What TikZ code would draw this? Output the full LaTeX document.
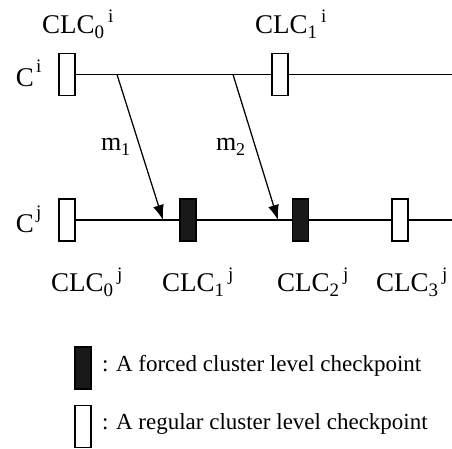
\documentclass[tikz,border=0pt]{standalone}
\usepackage{fontspec}
\setmainfont{Liberation Serif}
\usetikzlibrary{arrows.meta}

% checkpoint label: CLC with a lowered index and a raised cluster name
\newcommand{\clclabel}[2]{CLC\raisebox{-5pt}{\fontsize{19}{19}\selectfont #1}\hspace{4pt}\raisebox{11pt}{\fontsize{19}{19}\selectfont #2}}
\newcommand{\proclabel}[1]{C\hspace{2pt}\raisebox{14pt}{\fontsize{19}{19}\selectfont #1}}

\begin{document}
\begin{tikzpicture}[x=1pt,y=-1pt,
  every node/.style={inner sep=0pt, outer sep=0pt},
  ckpt/.style={draw=black, line width=1.2pt, fill=white, minimum width=16pt, minimum height=42pt},
  forced/.style={ckpt, fill=black!90},
  timeline/.style={line width=1.25pt},
  msg/.style={line width=1.25pt, -{Latex[length=15pt,width=11pt]}},
  lbl/.style={anchor=base west, font=\fontsize{27}{27}\selectfont},
  legend/.style={anchor=west, font=\fontsize{23}{23}\selectfont}]
  \useasboundingbox (0,0) rectangle (452,448);

  % cluster i
  \node[ckpt] (c0i) at (67,74.5) {};
  \node[ckpt] (c1i) at (280,74.5) {};
  \coordinate (iend) at (452,74.5);
  \draw[timeline] (c0i.east) -- (c1i.west);
  \draw[timeline] (c1i.east) -- (iend);

  % cluster j
  \node[ckpt] (c0j) at (67,220) {};
  \node[forced] (c1j) at (188,220) {};
  \node[forced] (c2j) at (300.5,220) {};
  \node[ckpt] (c3j) at (400,220) {};
  \coordinate (jend) at (452,220);
  \draw[timeline] (c0j.east) -- (c1j.west);
  \draw[timeline] (c1j.east) -- (c2j.west);
  \draw[timeline] (c2j.east) -- (c3j.west);
  \draw[timeline] (c3j.east) -- (jend);

  % messages
  \coordinate (m1s) at (117,74.5);
  \coordinate (m1e) at (163,220);
  \coordinate (m2s) at (233,74.5);
  \coordinate (m2e) at (278,220);
  \draw[msg] (m1s) -- (m1e);
  \draw[msg] (m2s) -- (m2e);
  \node[lbl, font=\fontsize{26}{26}\selectfont] (m1) at (101,150) {m\raisebox{-5pt}{\fontsize{18}{18}\selectfont 1}};
  \node[lbl, font=\fontsize{26}{26}\selectfont] (m2) at (216,150) {m\raisebox{-5pt}{\fontsize{18}{18}\selectfont 2}};

  % cluster names
  \node[lbl] (ci) at (16,86) {\proclabel{i}};
  \node[lbl] (cj) at (16,232) {\proclabel{j}};

  % checkpoint names
  \node[lbl] (l0i) at (42,33) {\clclabel{0}{i}};
  \node[lbl] (l1i) at (255,33) {\clclabel{1}{i}};
  \node[lbl] (l0j) at (51,291) {\clclabel{0}{j}};
  \node[lbl] (l1j) at (162,291) {\clclabel{1}{j}};
  \node[lbl] (l2j) at (277,291) {\clclabel{2}{j}};
  \node[lbl] (l3j) at (376,291) {\clclabel{3}{j}};

  % legend
  \node[forced] (kf) at (83,368) {};
  \node[ckpt] (kr) at (83,426.5) {};
  \node[legend] (tf) at (102,366) {: A forced cluster level checkpoint};
  \node[legend] (tr) at (102,424) {: A regular cluster level checkpoint};
\end{tikzpicture}
\end{document}
